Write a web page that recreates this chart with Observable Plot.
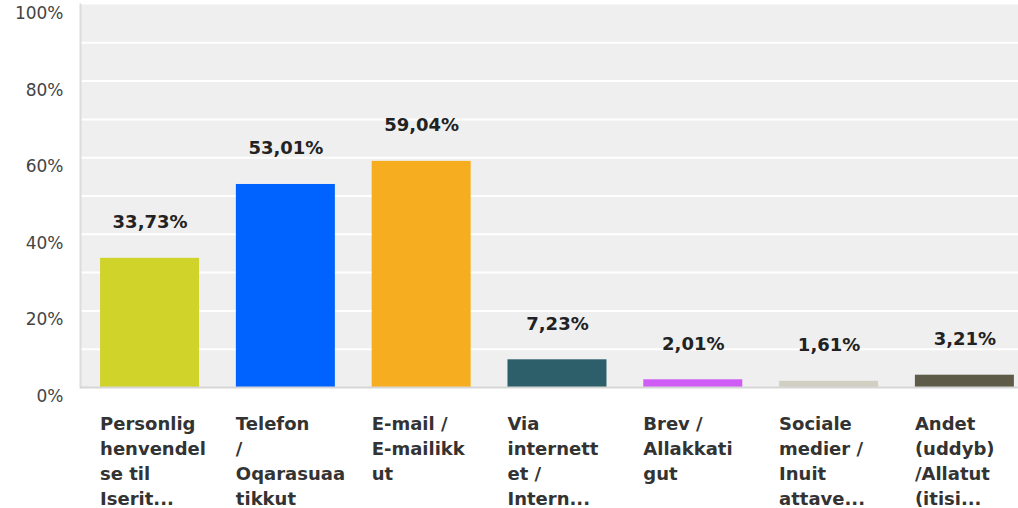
<!DOCTYPE html>
<html>
<head>
<meta charset="utf-8">
<script src="https://cdn.jsdelivr.net/npm/d3@7"></script>
<script src="https://cdn.jsdelivr.net/npm/@observablehq/plot@0.6"></script>
<style>
  html, body { margin: 0; padding: 0; background: #fff; }
  #chart svg { display: block; }
</style>
</head>
<body>
<div id="chart"></div>
<script>
const categories = [
  "Personlig\nhenvendel\nse til\nIserit...",
  "Telefon\n/\nOqarasuaa\ntikkut",
  "E-mail /\nE-mailikk\nut",
  "Via\ninternett\net /\nIntern...",
  "Brev /\nAllakkati\ngut",
  "Sociale\nmedier /\nInuit\nattave...",
  "Andet\n(uddyb)\n/Allatut\n(itisi..."
];
const values = [33.73, 53.01, 59.04, 7.23, 2.01, 1.61, 3.21];
const valueLabels = ["33,73%", "53,01%", "59,04%", "7,23%", "2,01%", "1,61%", "3,21%"];
const colors = ["#cfd32a", "#0063ff", "#f6ae20", "#2d5f6b", "#cf5cf4", "#d0cfc2", "#5e5c48"];
const yTicks = [0, 20, 40, 60, 80, 100];
const gridTicks = [10, 20, 30, 40, 50, 60, 70, 80, 90];

const data = categories.map((c, i) => ({cat: c, value: values[i], label: valueLabels[i], color: colors[i]}));

const chart = Plot.plot({
  width: 1018,
  height: 508,
  marginLeft: 80,
  marginRight: 0,
  marginTop: 4,
  marginBottom: 121,
  style: {fontFamily: "'DejaVu Sans', Verdana, sans-serif", background: "#fff"},
  x: {domain: categories, paddingInner: 0.271, paddingOuter: 0.089, align: 0.83, round: false, axis: null},
  y: {domain: [0, 100], axis: null},
  marks: [
    Plot.frame({fill: "#efefef", stroke: null}),
    Plot.ruleY(gridTicks, {stroke: "#ffffff", strokeWidth: 2}),
    Plot.frame({anchor: "left", stroke: "#dcdcdc", strokeWidth: 2}),
    Plot.barY(data, {x: "cat", y: "value", fill: "color"}),
    Plot.ruleY([0], {stroke: "#d6d6d6", strokeWidth: 2}),
    Plot.axisY({ticks: yTicks, tickSize: 0, tickPadding: 17, tickFormat: d => d + "%", fontSize: 17, fill: "#444", dy: 9, label: null}),
    Plot.text(data, {x: "cat", y: "value", text: "label", dy: -36, fontSize: 18, fontWeight: "bold", fill: "#222"}),
    Plot.text(data, {x: "cat", y: 0, text: "cat", textAnchor: "start", lineAnchor: "top", dx: -50, dy: 25, fontSize: 18, fontWeight: "bold", fill: "#333", lineHeight: 1.38})
  ]
});
document.getElementById("chart").appendChild(chart);
</script>
</body>
</html>
